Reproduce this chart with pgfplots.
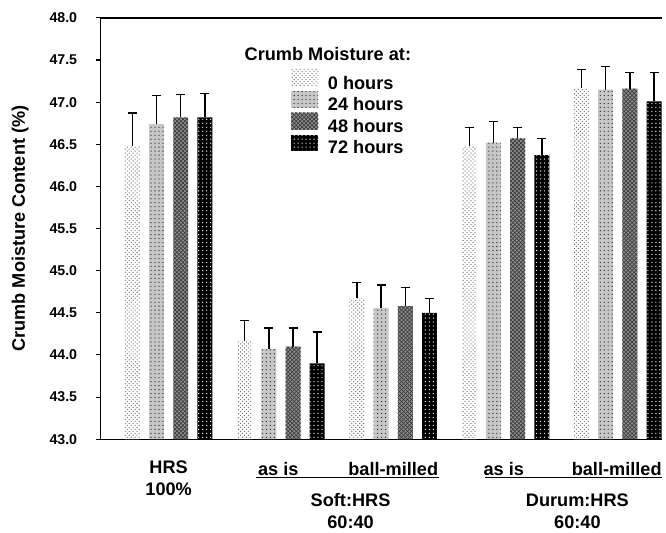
\documentclass[border=0pt]{standalone}
\usepackage{fontspec}
\setmainfont{Liberation Sans}
\usepackage{pgfplots}
\pgfplotsset{compat=1.18}
\usetikzlibrary{patterns}

\newcommand{\lbl}{\fontsize{13.7}{16}\selectfont\bfseries}

\pgfplotsset{
  mybar/.style={ybar, bar width=0.133, bar shift=0pt, draw=none,
    error bars/.cd, y dir=plus, y explicit, error mark=-,
    error bar style={line width=1.1pt, draw=black},
    error mark options={line width=1.1pt, mark size=3.4pt, draw=black, rotate=90},
    /pgfplots/.cd,
    legend image code/.code={\path[##1] (0pt,-2.5pt) rectangle (20.25pt,10.25pt);}},
}

\begin{document}
\begin{tikzpicture}
\begin{axis}[
  name=ax,
  width=423.75pt, height=318pt, scale only axis,
  xmin=0.392, xmax=5.392, ymin=43, ymax=48,
  axis x line*=bottom, axis y line*=left,
  axis line style={line width=1pt},
  xtick=\empty,
  ytick={43,43.5,44,44.5,45,45.5,46,46.5,47,47.5,48},
  /pgf/number format/assume math mode=true,
  yticklabel style={/pgf/number format/.cd, fixed, fixed zerofill, precision=1, /tikz/.cd,
    font=\fontsize{10.7}{12}\selectfont\bfseries, xshift=-11pt},
  tick align=outside, major tick length=3pt,
  tick style={line width=0.8pt, black},
  ylabel={Crumb Moisture Content (\%)},
  ylabel style={at={(rel axis cs:-0.143,0.5)}, anchor=center, font=\lbl},
  clip=false,
  legend style={at={(axis cs:2.09,47.386)}, anchor=north west, draw=none, fill=none,
    inner sep=0pt, font=\lbl, row sep=-0.7pt, column sep=4pt,
    nodes={inner ysep=1pt, inner xsep=3.4pt}},
  legend cell align=left,
]

% 0 hours
\addplot[mybar, fill=white, postaction={pattern=crosshatch dots, pattern color=black!55}]
  coordinates {(0.677,46.48) +- (0,0.39) (1.677,44.16) +- (0,0.25) (2.677,44.67) +- (0,0.19)
               (3.677,46.48) +- (0,0.22) (4.677,47.17) +- (0,0.22)};
\addlegendentry{0 hours}
% 24 hours
\addplot[mybar, fill=black!22, postaction={pattern=dots, pattern color=black!85}]
  coordinates {(0.892,46.74) +- (0,0.34) (1.892,44.07) +- (0,0.25) (2.892,44.56) +- (0,0.27)
               (3.892,46.52) +- (0,0.25) (4.892,47.15) +- (0,0.27)};
\addlegendentry{24 hours}
% 48 hours
\addplot[mybar, fill=black!45, postaction={pattern=crosshatch, pattern color=black!80}]
  coordinates {(1.108,46.82) +- (0,0.27) (2.108,44.10) +- (0,0.22) (3.108,44.58) +- (0,0.22)
               (4.108,46.57) +- (0,0.13) (5.108,47.16) +- (0,0.19)};
\addlegendentry{48 hours}
% 72 hours
\addplot[mybar, fill=black, postaction={pattern=dots, pattern color=white}]
  coordinates {(1.323,46.82) +- (0,0.28) (2.323,43.90) +- (0,0.37) (3.323,44.50) +- (0,0.17)
               (4.323,46.37) +- (0,0.20) (5.323,47.01) +- (0,0.34)};
\addlegendentry{72 hours}

\node[font=\lbl, anchor=base] at (axis cs:2.418,47.50) {Crumb Moisture at:};

\node[font=\lbl, anchor=base] at (axis cs:1,42.59) {HRS};
\node[font=\lbl, anchor=base] at (axis cs:1,42.33) {100\%};

\node[font=\lbl, anchor=base] at (axis cs:1.976,42.57) {as is};
\node[font=\lbl, anchor=base] at (axis cs:3.0,42.57) {ball-milled};
\draw[line width=0.75pt] (axis cs:1.78,42.54) -- (axis cs:3.41,42.54);
\node[font=\lbl, anchor=base] at (axis cs:2.62,42.20) {Soft:HRS};
\node[font=\lbl, anchor=base] at (axis cs:2.62,41.945) {60:40};

\node[font=\lbl, anchor=base] at (axis cs:3.985,42.57) {as is};
\node[font=\lbl, anchor=base] at (axis cs:4.99,42.57) {ball-milled};
\draw[line width=0.75pt] (axis cs:3.82,42.54) -- (axis cs:5.392,42.54);
\node[font=\lbl, anchor=base] at (axis cs:4.64,42.20) {Durum:HRS};
\node[font=\lbl, anchor=base] at (axis cs:4.64,41.945) {60:40};
\end{axis}
\draw[line width=1pt] (ax.north west) -- (ax.north east);
\path ([xshift=-75.75pt,yshift=-66.75pt]ax.south west) rectangle ([yshift=13.5pt]ax.north east);
\end{tikzpicture}
\end{document}
